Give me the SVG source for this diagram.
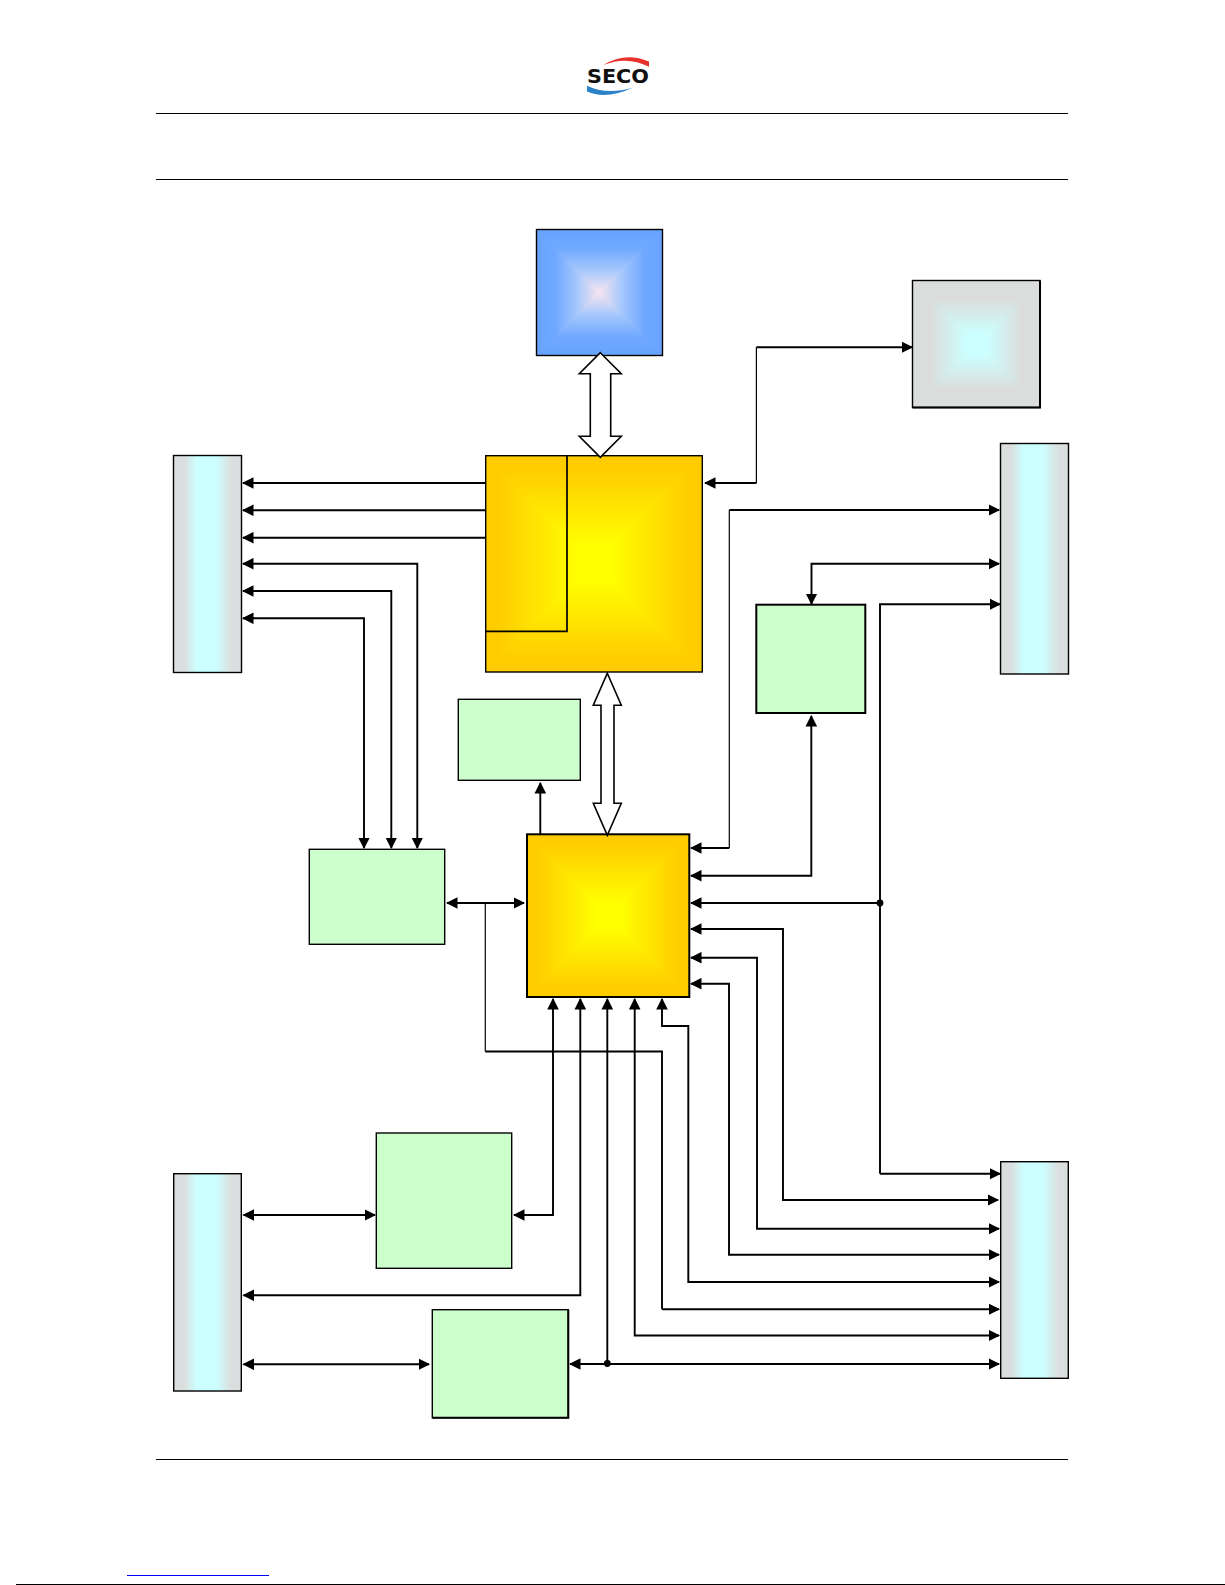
<svg xmlns="http://www.w3.org/2000/svg" width="1225" height="1585" viewBox="0 0 1225 1585">
<style>
.c{fill:none;stroke:#000;stroke-width:1.9;stroke-linejoin:miter}
.t{stroke-width:1.2}
.h{marker-end:url(#a)}
.d{marker-start:url(#a);marker-end:url(#a)}
.o{fill:none;stroke:#000;stroke-width:1.4}
.o2{fill:none;stroke:#000;stroke-width:2}
.bar{fill:url(#bar)}
.big{fill:#fff;stroke:#000;stroke-width:1.6;stroke-linejoin:miter}
.rule{stroke:#000;stroke-width:1.1}
.sq polygon{shape-rendering:crispEdges}
</style>
<defs>
<marker id="a" markerUnits="userSpaceOnUse" viewBox="0 0 12 12" refX="10.5" refY="6" markerWidth="12" markerHeight="12" orient="auto-start-reverse"><path d="M0,0.2 L11.6,6 L0,11.8 Z" fill="#000"/></marker>
<linearGradient id="bar" x1="0" y1="0" x2="1" y2="0"><stop offset="0" stop-color="#DBDEDE"/><stop offset=".16" stop-color="#DBDEDE"/><stop offset=".34" stop-color="#CCFFFF"/><stop offset=".62" stop-color="#CCFFFF"/><stop offset=".86" stop-color="#DBDEDE"/><stop offset="1" stop-color="#DBDEDE"/></linearGradient>
<linearGradient id="gs"><stop offset="0" stop-color="#FFCC00"/><stop offset=".12" stop-color="#FFCC00"/><stop offset=".85" stop-color="#FFFF00"/><stop offset="1" stop-color="#FFFF00"/></linearGradient>
<linearGradient id="gt" href="#gs" x1="0" y1="0" x2="0" y2="1"/><linearGradient id="gb" href="#gs" x1="0" y1="1" x2="0" y2="0"/><linearGradient id="gl" href="#gs" x1="0" y1="0" x2="1" y2="0"/><linearGradient id="gr" href="#gs" x1="1" y1="0" x2="0" y2="0"/>
<linearGradient id="bs"><stop offset="0" stop-color="#66A3FF"/><stop offset=".3" stop-color="#70A8FF"/><stop offset=".65" stop-color="#A6C8FC"/><stop offset="1" stop-color="#F8E4F0"/></linearGradient>
<linearGradient id="bt" href="#bs" x1="0" y1="0" x2="0" y2="1"/><linearGradient id="bb" href="#bs" x1="0" y1="1" x2="0" y2="0"/><linearGradient id="bl" href="#bs" x1="0" y1="0" x2="1" y2="0"/><linearGradient id="br" href="#bs" x1="1" y1="0" x2="0" y2="0"/>
<linearGradient id="ys"><stop offset="0" stop-color="#DBDDDD"/><stop offset=".3" stop-color="#DBDDDD"/><stop offset=".85" stop-color="#CCFFFF"/><stop offset="1" stop-color="#CCFFFF"/></linearGradient>
<linearGradient id="yt" href="#ys" x1="0" y1="0" x2="0" y2="1"/><linearGradient id="yb" href="#ys" x1="0" y1="1" x2="0" y2="0"/><linearGradient id="yl" href="#ys" x1="0" y1="0" x2="1" y2="0"/><linearGradient id="yr" href="#ys" x1="1" y1="0" x2="0" y2="0"/>
<g id="goldFill" class="sq"><polygon points="0,0 100,0 50,50" fill="url(#gt)"/><polygon points="100,0 100,100 50,50" fill="url(#gr)"/><polygon points="0,100 100,100 50,50" fill="url(#gb)"/><polygon points="0,0 0,100 50,50" fill="url(#gl)"/></g>
<g id="blueFill" class="sq"><polygon points="0,0 100,0 50,50" fill="url(#bt)"/><polygon points="100,0 100,100 50,50" fill="url(#br)"/><polygon points="0,100 100,100 50,50" fill="url(#bb)"/><polygon points="0,0 0,100 50,50" fill="url(#bl)"/></g>
<g id="grayFill" class="sq"><polygon points="0,0 100,0 50,50" fill="url(#yt)"/><polygon points="100,0 100,100 50,50" fill="url(#yr)"/><polygon points="0,100 100,100 50,50" fill="url(#yb)"/><polygon points="0,0 0,100 50,50" fill="url(#yl)"/></g>
</defs>
<rect width="1225" height="1585" fill="#fff"/>

<g id="page-furniture">
<line class="rule" x1="156" y1="113.5" x2="1068" y2="113.5"/>
<line class="rule" x1="156" y1="179.5" x2="1068" y2="179.5"/>
<line class="rule" x1="156" y1="1459.5" x2="1068" y2="1459.5"/>
<line x1="127" y1="1575.5" x2="269" y2="1575.5" stroke="#0000EE" stroke-width="1"/>
<rect x="16" y="1584" width="1209" height="1" fill="#000"/>
</g>

<g id="logo">
<path d="M603.5,65 Q625,51.5 649,61.5 L649,66.7 Q627,55.5 603.5,65 Z" fill="#E8322E"/>
<path d="M587,85.7 Q606,95 632.7,87.7 Q606,100 587,91.5 Z" fill="#2C82C9"/>
<text x="587" y="83.3" font-family="'DejaVu Sans',Verdana,sans-serif" font-weight="700" font-size="19" textLength="62" lengthAdjust="spacingAndGlyphs" fill="#111">SECO</text>
</g>

<g id="node-memory"><use href="#blueFill" transform="translate(536.5 229.5) scale(1.26 1.26)"/><rect class="o" x="536.5" y="229.5" width="126" height="126"/></g>
<g id="node-top-right"><use href="#grayFill" transform="translate(912.5 280.5) scale(1.275 1.27)"/><rect class="o" x="912.5" y="280.5" width="127.5" height="127"/><path class="o2" d="M1040,280.5 V407.5 H912.5"/></g>
<g id="node-cpu"><use href="#goldFill" transform="translate(485.7 455.7) scale(2.166 2.163)"/><rect class="o" x="485.7" y="455.7" width="216.6" height="216.3"/><path class="o" style="stroke-width:1.7" d="M567,455.7 V631.3 H485.7"/></g>
<g id="node-chipset"><use href="#goldFill" transform="translate(527 834.3) scale(1.623 1.627)"/><rect class="o2" x="527" y="834.3" width="162.3" height="162.7"/></g>
<g id="node-small-green"><rect style="fill:#CCFFCC" class="o" x="458.3" y="699.3" width="122" height="81"/></g>
<g id="node-right-green"><rect style="fill:#CCFFCC" class="o2" x="756.3" y="604.7" width="109" height="108.3"/></g>
<g id="node-left-green"><rect style="fill:#CCFFCC" class="o" x="309.3" y="849.3" width="135.4" height="95"/></g>
<g id="node-lower-green-a"><rect style="fill:#CCFFCC" class="o" x="376.3" y="1133" width="135.4" height="135.3"/></g>
<g id="node-lower-green-b"><rect style="fill:#CCFFCC" class="o" x="432.3" y="1309.7" width="136" height="108"/><path class="o2" d="M568.3,1309.7 V1417.7 H432.3"/></g>
<g id="node-conn-left-top"><rect class="bar" x="173.5" y="455.5" width="68" height="217"/><rect class="o" x="173.5" y="455.5" width="68" height="217"/></g>
<g id="node-conn-right-top"><rect class="bar" x="1000.5" y="443.5" width="68" height="230.5"/><rect class="o" x="1000.5" y="443.5" width="68" height="230.5"/></g>
<g id="node-conn-left-bottom"><rect class="bar" x="173.7" y="1173.7" width="67.6" height="217.3"/><rect class="o" x="173.7" y="1173.7" width="67.6" height="217.3"/></g>
<g id="node-conn-right-bottom"><rect class="bar" x="1000.7" y="1161.7" width="67.6" height="216.6"/><rect class="o" x="1000.7" y="1161.7" width="67.6" height="216.6"/></g>

<g id="connectors">
<polygon class="big" points="600.3,352.7 621.3,373.7 610.7,373.7 610.7,436.3 621.3,436.3 600.3,457.3 579.3,436.3 590.3,436.3 590.3,373.7 579.3,373.7"/>
<polygon class="big" points="607.3,673.3 621.3,705.3 614,705.3 614,803.3 621.3,803.3 607.3,835.3 593.3,803.3 601,803.3 601,705.3 593.3,705.3"/>

<path class="c h" d="M485.7,483 H243"/>
<path class="c h" d="M485.7,510.3 H243"/>
<path class="c h" d="M485.7,537.7 H243"/>
<path class="c d" d="M243,563.7 H417.3 V848"/>
<path class="c d" d="M243,591 H391.3 V848"/>
<path class="c d" d="M243,618.3 H364 V848"/>

<path class="c t" d="M756.4,483 V347.3"/>
<path class="c h" d="M756.4,483 H705"/>
<path class="c h" d="M756.4,347.3 H912"/>
<path class="c t" d="M729.3,848 V510"/>
<path class="c h" d="M729.3,848 H691"/>
<path class="c h" d="M729.3,510 H999"/>
<path class="c d" d="M811.5,604 V563.7 H999"/>
<path class="c h" d="M880,1173.7 V604.3 H1000"/>
<path class="c h" d="M880,1173.7 H1000"/>
<path class="c d" d="M691,875.7 H811.3 V716"/>
<path class="c h" d="M880,903 H691"/>
<path class="c d" d="M691,929 H783 V1200 H998"/>
<path class="c d" d="M691,957.7 H757 V1228.7 H999"/>
<path class="c d" d="M691,983.7 H729 V1254.7 H999"/>
<path class="c d" d="M662,999 V1026 H688.3 V1282 H999"/>
<path class="c h" d="M540.3,834.5 V783"/>
<path class="c d" d="M447,903 H524"/>
<path class="c t" d="M485.3,903 V1051.5"/>
<path class="c" d="M485.3,1051.5 H662 V1309.3"/>
<path class="c h" d="M662,1309.3 H999"/>
<path class="c d" d="M634.7,999 V1335.5 H999"/>
<path class="c d" d="M553,999 V1215 H514"/>
<path class="c d" d="M580.3,999 V1295.3 H243.5"/>
<path class="c h" d="M607.3,1363.3 V999"/>
<path class="c d" d="M570,1364 H999"/>
<path class="c d" d="M243.5,1215 H375"/>
<path class="c d" d="M243.5,1364.3 H429"/>
<circle cx="880" cy="903" r="3.4" fill="#000"/>
<circle cx="607.3" cy="1363.5" r="3.4" fill="#000"/>
</g>
</svg>
